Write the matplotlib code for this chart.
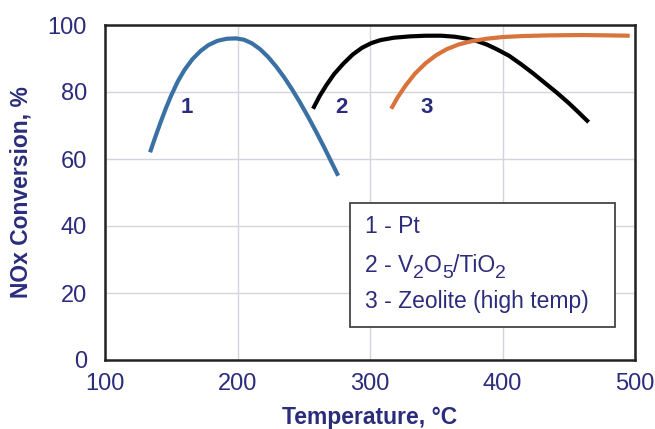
import matplotlib
matplotlib.use("Agg")
import matplotlib.pyplot as plt
from matplotlib.patches import Rectangle
from matplotlib import transforms

plt.rcParams['font.family'] = ['Liberation Sans', 'DejaVu Sans']

# Data
pt_temp = [134, 138, 142, 146, 150, 155, 160, 166, 172, 178, 185, 192, 199,
           205, 211, 217, 223, 229, 235, 241, 247, 253, 259, 265, 271, 276]
pt_conv = [62.0, 66.6, 71.0, 75.2, 79.0, 83.2, 86.6, 89.8, 92.2, 94.0, 95.3, 95.9, 96.0,
           95.6, 94.5, 92.8, 90.5, 87.7, 84.5, 80.9, 77.0, 72.8, 68.4, 63.8, 59.0, 55.0]

v_temp = [257, 262, 267, 273, 280, 287, 294, 301, 308, 318, 330, 342, 354,
          364, 372, 380, 388, 396, 405, 414, 423, 432, 441, 450, 458, 465]
v_conv = [75.0, 78.8, 82.0, 85.4, 88.5, 91.2, 93.2, 94.6, 95.5, 96.2, 96.6, 96.8, 96.8,
          96.5, 96.0, 95.3, 94.2, 92.7, 90.8, 88.3, 85.6, 82.7, 79.8, 76.7, 73.7, 71.0]

z_temp = [316, 321, 327, 334, 342, 350, 358, 367, 377, 388, 400, 415, 435, 460, 480, 496]
z_conv = [75.0, 78.5, 82.0, 85.5, 88.6, 91.0, 92.8, 94.2, 95.2, 95.9, 96.4, 96.7, 96.9, 97.0, 96.9, 96.8]

curve_labels = ['1', '2', '3']
curve_label_x = [161.6, 278.6, 342.7]
curve_label_y = [75.5, 75.5, 75.5]

# legend rows as (text, is_subscript) segments
legend_rows = [
    [('1 - Pt', False)],
    [('2 - V', False), ('2', True), ('O', False), ('5', True), ('/TiO', False), ('2', True)],
    [('3 - Zeolite (high temp)', False)],
]

x_ticks = [100, 200, 300, 400, 500]
y_ticks = [0, 20, 40, 60, 80, 100]

navy = '#2b2c7c'
blue = '#3a70a3'
orange = '#d8733b'

fig = plt.figure(figsize=(6.55, 4.29), dpi=100)
ax = fig.add_axes([105/655, 69/429, 530/655, 335/429])

kw = dict(lw=3, solid_capstyle='butt', solid_joinstyle='round')
ax.plot(pt_temp, pt_conv, color=blue, **kw)
ax.plot(v_temp, v_conv, color='black', **kw)
ax.plot(z_temp, z_conv, color=orange, **kw)

for lab, lx, ly in zip(curve_labels, curve_label_x, curve_label_y):
    ax.text(lx, ly, lab, color=navy, fontsize=16, fontweight='bold', ha='center', va='center')

ax.set_xlim(100, 500)
ax.set_ylim(0, 100)
ax.set_xticks(x_ticks)
ax.set_yticks(y_ticks)
ax.grid(True, color='#d4d4dc', lw=1)
ax.set_axisbelow(True)
ax.tick_params(length=0, labelsize=17, labelcolor=navy)
ax.tick_params(axis='x', pad=9)
ax.tick_params(axis='y', pad=13)
for s in ax.spines.values():
    s.set_color('#222222')
    s.set_linewidth(1.8)

ax.set_xlabel('Temperature, °C', fontsize=16.5, fontweight='bold', color=navy, labelpad=8)
ax.set_ylabel('NOx Conversion, %', fontsize=16.5, fontweight='bold', color=navy, labelpad=11)

# legend box
ax.add_patch(Rectangle((0.462, 0.0994), 0.500, 0.3702, transform=ax.transAxes,
                       facecolor='white', edgecolor='#444444', lw=1.3, zorder=5))
legend_y = [0.380, 0.2636, 0.154]
renderer = fig.canvas.get_renderer()
for row, ly in zip(legend_rows, legend_y):
    dx = 0.0
    for seg, sub in row:
        tr = transforms.offset_copy(ax.transAxes, fig=fig, x=dx, y=(-4.5 if sub else 0), units='points')
        t = ax.text(0.4906, ly, seg, transform=tr, color=navy, fontsize=(14 if sub else 16.5),
                    ha='left', va='baseline', zorder=6)
        w = t.get_window_extent(renderer=renderer).width
        dx += w * 72.0 / fig.dpi

fig.savefig('out.png', dpi=100)
